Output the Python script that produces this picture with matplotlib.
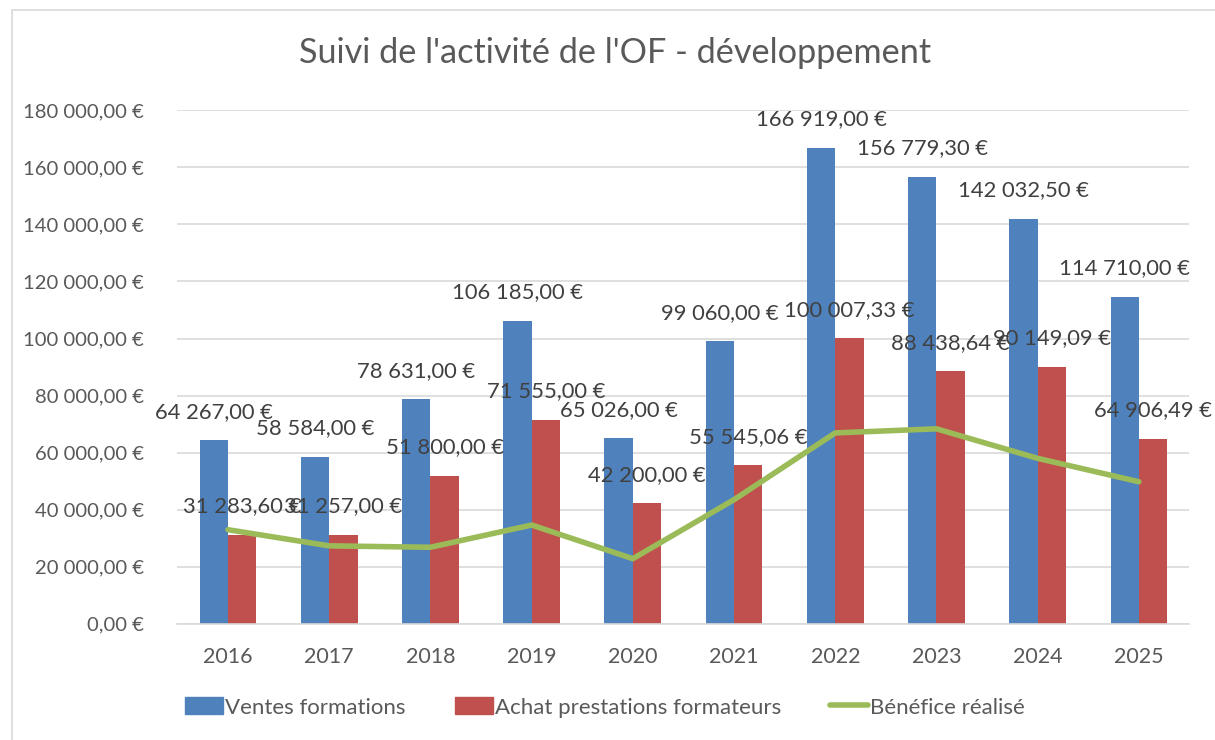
import matplotlib.pyplot as plt
import numpy as np
from matplotlib.patches import Rectangle, Patch
from matplotlib.lines import Line2D

plt.rcParams['font.family'] = ['Lato', 'DejaVu Sans']

# donnees
annees = ['2016', '2017', '2018', '2019', '2020', '2021', '2022', '2023', '2024', '2025']
ventes = [64267.00, 58584.00, 78631.00, 106185.00, 65026.00, 99060.00, 166919.00, 156779.30, 142032.50, 114710.00]
achats = [31283.60, 31257.00, 51800.00, 71555.00, 42200.00, 55545.06, 100007.33, 88438.64, 90149.09, 64906.49]
benefice = [32983.40, 27327.00, 26831.00, 34630.00, 22826.00, 43514.94, 66911.67, 68340.66, 58000.00, 49803.51]
yticks = [0, 20000, 40000, 60000, 80000, 100000, 120000, 140000, 160000, 180000]

bleu = '#4F81BD'
rouge = '#C0504D'
vert = '#9BBB59'
gris = '#595959'

def euro(v):
    s = f"{v:,.2f}".replace(',', ' ').replace('.', ',')
    return s + ' €'

fig = plt.figure(figsize=(12.15, 7.4), dpi=100)
ax = fig.add_axes([0.146, 0.157, 0.833, 0.694])

# cadre du graphique
fig.patches.append(Rectangle((12/1215, -0.05), 1.1, 1.05 - 10/740,
                             transform=fig.transFigure, fill=False,
                             edgecolor='#D9D9D9', linewidth=1.2))

x = np.arange(len(annees))
w = 0.28
ax.bar(x - w/2, ventes, w, color=bleu, zorder=2)
ax.bar(x + w/2, achats, w, color=rouge, zorder=2)
ax.plot(x, benefice, color=vert, linewidth=4, zorder=3, solid_capstyle='round')

# etiquettes (elles se chevauchent parfois, comme dans Excel)
for i in range(len(annees)):
    ax.text(x[i] - w/2, ventes[i] + 6500, euro(ventes[i]), ha='center', va='bottom',
            fontsize=15.8, color='#404040', zorder=4)
for i in range(len(annees)):
    ax.text(x[i] + w/2, achats[i] + 6500, euro(achats[i]), ha='center', va='bottom',
            fontsize=15.8, color='#404040', zorder=4)

ax.set_xlim(-0.5, len(annees) - 0.5)
ax.set_ylim(0, 180000)
ax.set_yticks(yticks)
ax.set_yticklabels([euro(t) for t in yticks])
ax.set_xticks(x)
ax.set_xticklabels(annees)
ax.tick_params(axis='y', length=0, labelsize=14.6, colors=gris, pad=24)
ax.tick_params(axis='x', length=0, labelsize=15.5, colors=gris, pad=17)
ax.yaxis.grid(True, color='#D9D9D9', linewidth=1.2, zorder=0)
ax.set_axisbelow(True)
for s in ['top', 'right', 'left']:
    ax.spines[s].set_visible(False)
ax.spines['bottom'].set_color('#D9D9D9')
ax.spines['bottom'].set_linewidth(1.2)

fig.text(0.506, 0.928, "Suivi de l'activité de l'OF - développement", ha='center', va='center',
         fontsize=24.7, color=gris)

handles = [Patch(color=bleu), Patch(color=rouge),
           Line2D([0], [0], color=vert, linewidth=4, solid_capstyle='round')]
noms = ['Ventes formations', 'Achat prestations formateurs', 'Bénéfice réalisé']
fig.legend(handles, noms, loc='center', bbox_to_anchor=(0.498, 0.044), ncol=3, frameon=False,
           fontsize=16, labelcolor=gris, handlelength=1.7, handleheight=0.8,
           handletextpad=0.1, columnspacing=2.2)

fig.savefig('out.png', dpi=100)
